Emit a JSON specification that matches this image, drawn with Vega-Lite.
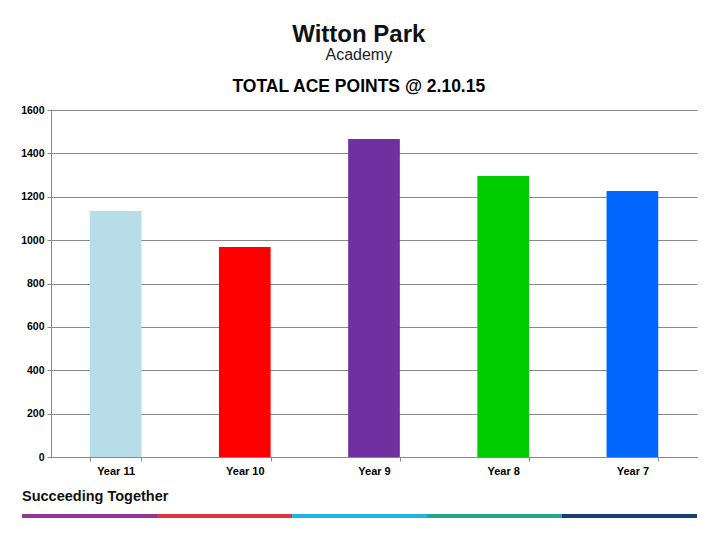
{
  "$schema": "https://vega.github.io/schema/vega-lite/v6.json",
  "background": "white",
  "padding": {"left": 20, "top": 22, "right": 18, "bottom": 5},
  "config": {"font": "Liberation Sans", "view": {"stroke": null}},
  "title": {
    "text": "Witton Park",
    "subtitle": "Academy",
    "fontSize": 24,
    "fontWeight": "bold",
    "color": "#111111",
    "subtitleFontSize": 16,
    "subtitleColor": "#222222",
    "subtitlePadding": 0,
    "anchor": "middle",
    "frame": "bounds",
    "offset": 15
  },
  "resolve": {"scale": {"color": "independent", "x": "independent"}},
  "vconcat": [
    {
      "width": 646,
      "height": 347,
      "title": {
        "text": "TOTAL ACE POINTS @ 2.10.15",
        "fontSize": 17.5,
        "fontWeight": "bold",
        "color": "#000000",
        "anchor": "middle",
        "frame": "bounds",
        "offset": 10
      },
      "data": {
        "values": [
          {"year": "Year 11", "points": 1134},
          {"year": "Year 10", "points": 968},
          {"year": "Year 9", "points": 1466},
          {"year": "Year 8", "points": 1296},
          {"year": "Year 7", "points": 1226}
        ]
      },
      "mark": {"type": "bar"},
      "encoding": {
        "x": {
          "field": "year",
          "type": "nominal",
          "sort": null,
          "title": null,
          "scale": {"paddingInner": 0.6, "paddingOuter": 0.3},
          "axis": {
            "labelAngle": 0,
            "labelFontSize": 11,
            "labelFontWeight": "bold",
            "labelColor": "#000000",
            "labelPadding": 4,
            "domainColor": "#888888",
            "tickColor": "#888888",
            "tickBand": "extent",
            "tickSize": 4
          }
        },
        "y": {
          "field": "points",
          "type": "quantitative",
          "title": null,
          "scale": {"domain": [0, 1600]},
          "axis": {
            "values": [0, 200, 400, 600, 800, 1000, 1200, 1400, 1600],
            "format": "d",
            "labelFontSize": 10.5,
            "labelFontWeight": "bold",
            "labelColor": "#000000",
            "labelPadding": 3,
            "domainColor": "#888888",
            "tickColor": "#888888",
            "tickSize": 4,
            "gridColor": "#888888",
            "gridOpacity": 1
          }
        },
        "color": {
          "field": "year",
          "type": "nominal",
          "legend": null,
          "scale": {
            "domain": ["Year 11", "Year 10", "Year 9", "Year 8", "Year 7"],
            "range": ["#B7DDE8", "#FF0000", "#7030A0", "#00CC00", "#0066FF"]
          }
        }
      }
    },
    {
      "width": 646,
      "height": 4,
      "title": {
        "text": "Succeeding Together",
        "fontSize": 14.5,
        "fontWeight": "bold",
        "color": "#111111",
        "anchor": "start",
        "frame": "bounds",
        "offset": 10
      },
      "data": {
        "values": [
          {"seg": "a", "start": 0, "end": 1},
          {"seg": "b", "start": 1, "end": 2},
          {"seg": "c", "start": 2, "end": 3},
          {"seg": "d", "start": 3, "end": 4},
          {"seg": "e", "start": 4, "end": 5}
        ]
      },
      "mark": {"type": "rect", "clip": false},
      "encoding": {
        "x": {"field": "start", "type": "quantitative", "scale": {"domain": [0, 5], "nice": false, "zero": false, "range": [-29, 646]}, "axis": null},
        "x2": {"field": "end"},
        "color": {
          "field": "seg",
          "type": "nominal",
          "legend": null,
          "scale": {
            "domain": ["a", "b", "c", "d", "e"],
            "range": ["#993399", "#E6323F", "#1EB4E6", "#23A98A", "#173F73"]
          }
        }
      }
    }
  ],
  "spacing": 12
}
